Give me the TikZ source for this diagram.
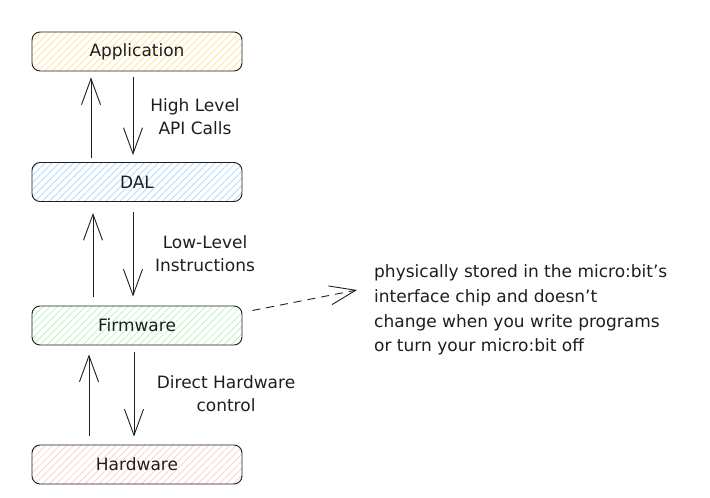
\documentclass[tikz,border=0pt]{standalone}
\usepackage{fontspec}
\setmainfont{DejaVu Sans}
\usepackage{xcolor}
\usetikzlibrary{arrows.meta,patterns.meta}
\definecolor{ink}{HTML}{1E1E1E}
\definecolor{appfill}{HTML}{FFE08A}
\definecolor{dalfill}{HTML}{A5D8FF}
\definecolor{fwfill}{HTML}{B2F2BB}
\definecolor{hwfill}{HTML}{FFC9C9}
\tikzset{layer/.style={draw=ink,line width=0.9pt,rounded corners=8pt,
   minimum width=210pt,minimum height=39pt,inner sep=0pt,
   text=ink,font=\fontsize{17}{20}\selectfont},
 hatch/.style={pattern={Lines[angle=45,distance=5pt,line width=0.7pt]},pattern color=#1},
 flow/.style={draw=ink,line width=0.9pt,-{Straight Barb[length=26pt,width=19pt,line width=0.9pt]}},
 lbl/.style={text=ink,align=center,inner sep=0pt,font=\fontsize{17}{23}\selectfont},
 }

\begin{document}
\begin{tikzpicture}[x=1pt,y=-1pt]
        \useasboundingbox (0,0) rectangle (710,498);
        \node[layer,hatch=appfill] (app) at (137,51.5) {Application};
        \node[layer,hatch=dalfill] (dal) at (137,182) {DAL};
        \node[layer,hatch=fwfill] (fw) at (137,325.5) {Firmware};
        \node[layer,hatch=hwfill] (hw) at (137,464.5) {Hardware};
        \draw[flow] ([xshift=-46pt,yshift=4pt]dal.north) -- ([xshift=-46pt,yshift=-6pt]app.south);
        \draw[flow] ([xshift=-4pt,yshift=-6pt]app.south) -- ([xshift=-4pt,yshift=7pt]dal.north);
        \draw[flow] ([xshift=-44pt,yshift=9pt]fw.north) -- ([xshift=-44pt,yshift=-11pt]dal.south);
        \draw[flow] ([xshift=-4pt,yshift=-10pt]dal.south) -- ([xshift=-4pt,yshift=9pt]fw.north);
        \draw[flow] ([xshift=-48pt,yshift=9pt]hw.north) -- ([xshift=-48pt,yshift=-9pt]fw.south);
        \draw[flow] ([xshift=-3pt,yshift=-7pt]fw.south) -- ([xshift=-3pt,yshift=8pt]hw.north);
        \node[lbl] (api) at (195,116.5) {High Level\\API Calls};
        \node[lbl] (ins) at (205,253.5) {Low-Level\\Instructions};
        \node[lbl] (ctl) at (226,393.5) {Direct Hardware\\control};
        \node[lbl,align=left,anchor=west,font=\fontsize{17}{24.7}\selectfont] (note) at (374,310)
            {physically stored in the micro:bit's\\interface chip and doesn't\\change when you write programs\\or turn your micro:bit off};
        \draw[flow,dash pattern=on 8pt off 6pt] ([xshift=10pt,yshift=15pt]fw.east) -- ([xshift=-17pt,yshift=20pt]note.west);
    \end{tikzpicture}
\end{document}
